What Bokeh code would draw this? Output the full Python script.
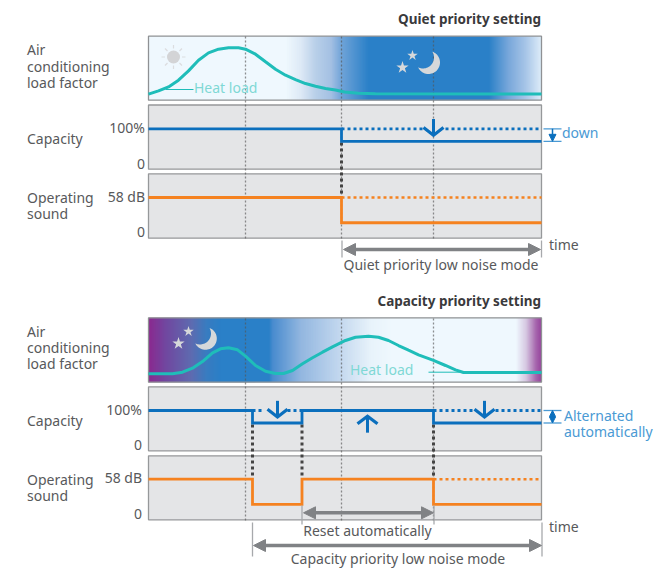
import numpy as np
from bokeh.plotting import figure
from bokeh.models import Range1d, Arrow, NormalHead
from bokeh.core.properties import value
from bokeh.embed import file_html
from bokeh.resources import INLINE

# ---------- data (time t = 0..393 across each panel) ----------
T_END = 393
load_quiet_t = [0,10,20,30,40,50,60,70,80,90,97,107,117,127,137,147,157,167,177,187,196,210,227,393]
load_quiet_v = [9.4,14.6,20.8,31.3,45.8,62.5,74,79.7,81.8,81.8,79.7,71.9,60,48.4,39,32.3,26,21.9,18.3,16,12.8,10.8,10,9.7]
load_cap_t = [0,24,34,44,54,64,72,80,89,97,107,117,127,135,144,154,164,174,184,197,207,220,230,240,250,260,270,285,297,307,315,393]
load_cap_v = [13.1,13.1,15.6,21.9,32.3,45.9,52.2,53.8,50.6,40.7,26.1,17.2,13.6,13.6,18.3,28.7,38.1,46.9,55.3,65.2,70.3,71.9,70.3,65.2,57.3,50,42.8,34,26.1,19.3,15.2,15.2]
cap_full, cap_low = 100, 69
snd_full, snd_low = 58, 22
quiet_switch = [193]
cap_switch = [104, 153.5, 285]
guides_quiet = [97, 285]
guides_cap = [97, 193, 285]
quiet_cap_t = [0,193,193,393]
quiet_cap_v = [cap_full,cap_full,cap_low,cap_low]
quiet_snd_v = [snd_full,snd_full,snd_low,snd_low]
cap_cap_t = [0,104,104,153.5,153.5,285,285,393]
cap_cap_v = [cap_full,cap_full,cap_low,cap_low,cap_full,cap_full,cap_low,cap_low]
cap_snd_v = [snd_full,snd_full,snd_low,snd_low,snd_full,snd_full,snd_low,snd_low]

# ---------- style / layout ----------
FONT = "Noto Sans"
BLUE, ORANGE, TEAL = "#0b6fbd", "#f58220", "#1fbdb9"
LBLUE = "#4a9ad4"; TXT = "#58595b"; GREY = "#808285"
L, R = 148, 541
W, H = 655, 569

p = figure(width=W, height=H, x_range=Range1d(0, W), y_range=Range1d(H, 0),
           output_backend="svg", toolbar_location=None, min_border=0,
           x_axis_location=None, y_axis_location=None)
p.xgrid.visible = False; p.ygrid.visible = False; p.outline_line_color = None
p.extra_x_ranges["t"] = Range1d(-L, W-L)

def yrange(name, bottom, k):
    p.extra_y_ranges[name] = Range1d((bottom-H)/k, bottom/k)

def gradient(top, bottom, stops):
    xs = np.arange(L, R)
    sx = [s[0] for s in stops]
    rgb = np.array([[int(s[1][i:i+2], 16) for i in (1,3,5)] for s in stops])
    cols = ["#%02x%02x%02x" % tuple(int(np.interp(x, sx, rgb[:,c])) for c in range(3)) for x in xs]
    p.quad(left=xs, right=np.minimum(xs+1.6, R), top=top, bottom=bottom, fill_color=cols, line_color=None)
    p.quad(left=L, right=R, top=top, bottom=bottom, fill_color=None, line_color="#8f9194", line_width=1.3)

def panel(top, bottom):
    p.quad(left=L, right=R, top=top, bottom=bottom, fill_color="#e4e5e7", line_color="#96989a", line_width=1.3)

def txt(x, y, s, color=TXT, align="left", size="14px", bold=False):
    p.text([x-0.5],[y-1],text=[s],text_font=value(FONT),text_font_size=size,text_color=color,
           text_align=align,text_baseline="middle",text_font_style="bold" if bold else "normal")

def moon(cx, cy, r, dx, dy, R2):
    d = np.hypot(dx,dy); base = np.arctan2(dy,dx)
    a = np.arccos((d*d+r*r-R2*R2)/(2*d*r)); b = np.arccos((d*d+R2*R2-r*r)/(2*d*R2))
    o = np.linspace(base+a, base-a+2*np.pi, 40)
    i = np.linspace(base+np.pi+b, base+np.pi-b, 30)
    x = np.r_[cx+r*np.cos(o), cx+dx+R2*np.cos(i)]
    y = np.r_[cy+r*np.sin(o), cy+dy+R2*np.sin(i)]
    p.patch(x, y, fill_color="#d6d8da", line_color=None)

def dim(x0, x1, y, width=3.5, color=GREY, size=12):
    p.add_layout(Arrow(x_start=x0, x_end=x1, y_start=y, y_end=y, line_color=color, line_width=width,
                       start=NormalHead(size=size, fill_color=color, line_color=color),
                       end=NormalHead(size=size, fill_color=color, line_color=color)))

def vee(t, y0, y1, rng):
    sign = 1 if y0 > y1 else -1
    p.segment([t],[y0],[t],[y1],x_range_name="t",y_range_name=rng,line_color=BLUE,line_width=3)
    p.line([t-10,t,t+10],[y1+sign*19,y1,y1+sign*19],x_range_name="t",y_range_name=rng,
           line_color=BLUE,line_width=3.2,line_join="miter")

def guide(ts, top, bottom):
    p.segment(x0=ts, x1=ts, y0=[top]*len(ts), y1=[bottom]*len(ts), x_range_name="t",
              line_color="#555", line_alpha=0.65, line_width=1.3, line_dash="2 2")

def tick(x, y0, y1):
    p.segment([x],[y0],[x],[y1],line_color="#a7a9ac",line_width=1.3)

def bracket(rng):
    p.segment(x0=[395,395], x1=[413,413], y0=[cap_full,cap_low], y1=[cap_full,cap_low],
              x_range_name="t", y_range_name=rng, line_color=LBLUE, line_width=1.3)

# ---------- Quiet priority ----------
yrange("l1", 99.7, 0.64); yrange("c1", 168.7, 0.404); yrange("s1", 237.7, 40.7/58)
gradient(35.7, 99.7, [(148,"#eff8fe"),(285,"#eff8fe"),(300,"#dde9f6"),(315,"#b8cfe9"),(330,"#a4c0e3"),
                      (341,"#6fa3d8"),(368,"#2a80c8"),(488,"#2a80c8"),(508,"#7aa8db"),(525,"#a8c6e8"),(541,"#e0eefa")])
panel(104.5,168.7); panel(173.3,237.7)
guide(guides_quiet, 36, 238)
guide(quiet_switch, 36, 238)
p.segment(x0=quiet_switch, x1=quiet_switch, y0=[142], y1=[196], x_range_name="t", line_color="#444", line_width=3, line_dash="3 3")
# sun
ang = np.arange(8)*np.pi/4
p.segment(173+8.5*np.cos(ang),56.5+8.5*np.sin(ang),173+12*np.cos(ang),56.5+12*np.sin(ang),line_color="#dcdddf",line_width=1.2)
p.circle([173],[56.5],radius=6.5,fill_color="#d3d4d6",line_color=None)
moon(428,62,11.5,-5.5,-5,11)
p.scatter([402,412],[67,55],marker="star",size=[13,11],fill_color="#d6d8da",line_color=None)
p.line(load_quiet_t, load_quiet_v, x_range_name="t", y_range_name="l1", line_color=TEAL, line_width=3)
p.segment([165],[89],[193],[89],line_color=TEAL,line_width=1)
txt(194,88,"Heat load",color="#7fd8d5")
p.segment(x0=[193,297],x1=[274,393],y0=[cap_full]*2,y1=[cap_full]*2,x_range_name="t",y_range_name="c1",line_color=BLUE,line_width=2.8,line_dash="3 3")
p.line(quiet_cap_t, quiet_cap_v, x_range_name="t", y_range_name="c1", line_color=BLUE, line_width=2.8, line_join="miter")
p.segment(x0=[193],x1=[393],y0=[snd_full],y1=[snd_full],x_range_name="t",y_range_name="s1",line_color=ORANGE,line_width=2.5,line_dash="3 3")
p.line(quiet_cap_t, quiet_snd_v, x_range_name="t", y_range_name="s1", line_color=ORANGE, line_width=2.8, line_join="miter")
vee(285, cap_full+24, cap_full-16, "c1")
bracket("c1")
p.add_layout(Arrow(x_start=404,x_end=404,y_start=cap_full,y_end=cap_low,x_range_name="t",y_range_name="c1",
                   line_color=BLUE,line_width=1.5,end=NormalHead(size=7,fill_color=BLUE,line_color=BLUE)))
txt(562,133,"down",color=LBLUE)
tick(341.5,240,257); tick(541,240,257)
dim(343,540,249)
txt(549,245,"time")
txt(441,264.5,"Quiet priority low noise mode",align="center")
txt(541,19,"Quiet priority setting",color="#3a3a3c",align="right",size="13.5px",bold=True)
for x,y,s in [(27,50,"Air"),(27,67,"conditioning"),(27,83,"load factor"),(27,139,"Capacity"),(27,198,"Operating"),(27,214,"sound"),
              (27,332,"Air"),(27,348,"conditioning"),(27,364,"load factor"),(27,421,"Capacity"),(27,480,"Operating"),(27,496,"sound")]:
    txt(x,y,s)
for x,y,s in [(145,128,"100%"),(145,164,"0"),(145,197,"58 dB"),(145,232,"0"),
              (142,410,"100%"),(142,445,"0"),(142,478,"58 dB"),(142,514,"0")]:
    txt(x,y,s,align="right")

# ---------- Capacity priority ----------
yrange("l2", 381.7, 0.64); yrange("c2", 450.3, 0.403); yrange("s2", 519.3, 40.6/58)
gradient(317.3, 381.7, [(148,"#8a2a8f"),(165,"#7148a0"),(190,"#5f6bb0"),(205,"#3a7cc0"),(220,"#2a80c8"),(268,"#2a80c8"),(272,"#4a8ccf"),
                        (300,"#93b7e0"),(341,"#c6daf0"),(370,"#e8f3fb"),(390,"#eff8fe"),(515,"#eff8fe"),
                        (525,"#d6c8e2"),(535,"#a666ad"),(541,"#94409c")])
panel(386.3,450.3); panel(455.3,519.3)
guide(guides_cap, 318, 520)
p.segment(x0=cap_switch, x1=cap_switch, y0=[424]*3, y1=[478]*3, x_range_name="t", line_color="#444", line_width=3, line_dash="3 3")
moon(205,338,11.3,-5.5,-5,11)
p.scatter([178,188],[343,331],marker="star",size=[13,11],fill_color="#d6d8da",line_color=None)
p.line(load_cap_t, load_cap_v, x_range_name="t", y_range_name="l2", line_color=TEAL, line_width=3)
p.segment([428],[371.7],[463],[371.7],line_color=TEAL,line_width=1)
txt(350,370,"Heat load",color="#7fd8d5")
p.segment(x0=[104,139,285,347],x1=[115,153.5,325,393],y0=[cap_full]*4,y1=[cap_full]*4,x_range_name="t",y_range_name="c2",line_color=BLUE,line_width=2.8,line_dash="3 3")
p.line(cap_cap_t, cap_cap_v, x_range_name="t", y_range_name="c2", line_color=BLUE, line_width=2.8, line_join="miter")
p.segment(x0=[285],x1=[393],y0=[snd_full],y1=[snd_full],x_range_name="t",y_range_name="s2",line_color=ORANGE,line_width=2.5,line_dash="3 3")
p.line(cap_cap_t, cap_snd_v, x_range_name="t", y_range_name="s2", line_color=ORANGE, line_width=2.8, line_join="miter")
vee(129, cap_full+24, cap_full-16, "c2")
vee(336, cap_full+24, cap_full-16, "c2")
vee(219, cap_full-55, cap_full-14, "c2")
bracket("c2")
p.add_layout(Arrow(x_start=404,x_end=404,y_start=cap_low+15,y_end=cap_low,x_range_name="t",y_range_name="c2",
                   line_color=BLUE,line_width=1.5,end=NormalHead(size=6,fill_color=BLUE,line_color=BLUE)))
p.add_layout(Arrow(x_start=404,x_end=404,y_start=cap_low+15,y_end=cap_full,x_range_name="t",y_range_name="c2",
                   line_color=BLUE,line_width=1.5,end=NormalHead(size=6,fill_color=BLUE,line_color=BLUE)))
txt(564,416,"Alternated",color=LBLUE)
txt(564,432,"automatically",color=LBLUE)
tick(301.5,505,524); tick(433.5,505,524)
dim(303,433,512.3)
txt(367.5,531,"Reset automatically",align="center")
tick(252,522,556); tick(541.5,522,556)
dim(253,541,545)
txt(398,559,"Capacity priority low noise mode",align="center")
txt(549,527,"time")
txt(541,301,"Capacity priority setting",color="#3a3a3c",align="right",size="13.5px",bold=True)

open("out.html","w").write(file_html(p, INLINE))
